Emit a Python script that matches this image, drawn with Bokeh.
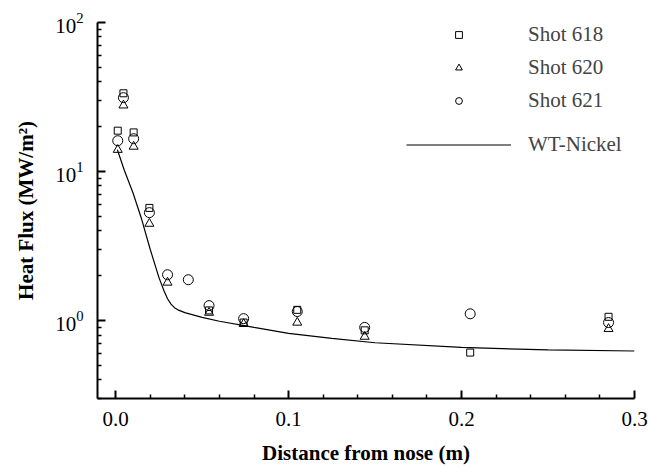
from bokeh.plotting import figure
from bokeh.models import (FixedTicker, NumeralTickFormatter, LogTickFormatter,
                          Legend, LegendItem, Range1d)
from bokeh.embed import file_html
from bokeh.resources import INLINE

# --- data ---
x_618 = [0.0012, 0.0045, 0.0104, 0.0195, 0.054, 0.074, 0.105, 0.144, 0.205, 0.285]
y_618 = [18.8, 33.5, 18.3, 5.7, 1.17, 0.97, 1.18, 0.86, 0.61, 1.06]

x_620 = [0.0012, 0.0045, 0.0104, 0.0195, 0.030, 0.054, 0.074, 0.105, 0.144, 0.285]
y_620 = [14.0, 27.8, 14.7, 4.47, 1.8, 1.13, 0.95, 0.97, 0.78, 0.88]

x_621 = [0.0012, 0.0045, 0.0104, 0.0195, 0.030, 0.042, 0.054, 0.074, 0.105, 0.144, 0.205, 0.285]
y_621 = [16.1, 31.3, 16.6, 5.3, 2.03, 1.88, 1.26, 1.03, 1.15, 0.90, 1.11, 0.97]

x_wt = [0.001, 0.005, 0.01, 0.015, 0.02, 0.025, 0.028, 0.030, 0.032, 0.034, 0.036,
        0.04, 0.05, 0.06, 0.08, 0.1, 0.125, 0.15, 0.2, 0.25, 0.3]
y_wt = [14.0, 10.2, 7.2, 4.8, 3.0, 1.95, 1.58, 1.4, 1.29, 1.22, 1.18,
        1.13, 1.05, 0.99, 0.9, 0.82, 0.76, 0.71, 0.66, 0.635, 0.625]

x_major = [0.0, 0.1, 0.2, 0.3]
x_minor = [0.02, 0.04, 0.06, 0.08, 0.12, 0.14, 0.16, 0.18, 0.22, 0.24, 0.26, 0.28]
y_major = [1, 10, 100]
y_minor = [0.3, 0.4, 0.5, 0.6, 0.7, 0.8, 0.9,
           2, 3, 4, 5, 6, 7, 8, 9,
           20, 30, 40, 50, 60, 70, 80, 90]

FONT = "Liberation Serif"

p = figure(frame_width=537, frame_height=376, y_axis_type="log",
           x_range=Range1d(-0.0105, 0.3), y_range=Range1d(0.3, 100),
           output_backend="svg", toolbar_location=None,
           min_border_left=97, min_border_right=14, min_border_top=22, min_border_bottom=69)
p.outline_line_color = None
p.grid.visible = False
p.background_fill_color = "white"
p.border_fill_color = "white"

line_r = p.line(x_wt, y_wt, line_color="black", line_width=1.2)
r618 = p.scatter(x_618, y_618, marker="square", size=7, fill_color=None, line_color="black", line_width=1)
r620 = p.scatter(x_620, y_620, marker="triangle", size=9, fill_color=None, line_color="black", line_width=1)
r621 = p.scatter(x_621, y_621, marker="circle", size=10, fill_color=None, line_color="black", line_width=1)

for ax in (p.xaxis[0], p.yaxis[0]):
    ax.axis_line_width = 2
    ax.axis_line_color = "black"
    ax.major_tick_line_width = 2
    ax.minor_tick_line_width = 1.5
    ax.major_tick_in = 8
    ax.major_tick_out = 0
    ax.minor_tick_in = 4
    ax.minor_tick_out = 0
    ax.major_label_text_font = FONT
    ax.major_label_text_font_size = "21px"
    ax.major_label_text_color = "black"
    ax.axis_label_text_font = FONT
    ax.axis_label_text_font_size = "21px"
    ax.axis_label_text_font_style = "bold"
    ax.axis_label_text_color = "black"

p.xaxis.ticker = FixedTicker(ticks=x_major, minor_ticks=x_minor)
p.xaxis.formatter = NumeralTickFormatter(format="0.0")
p.xaxis.major_label_standoff = 13
p.xaxis.axis_label = "Distance from nose (m)"
p.xaxis.axis_label_standoff = 12

p.yaxis.ticker = FixedTicker(ticks=y_major, minor_ticks=y_minor)
p.yaxis.formatter = LogTickFormatter()
p.yaxis.major_label_standoff = 14
p.yaxis.axis_label = "Heat Flux (MW/m²)"
p.yaxis.axis_label_standoff = 14

leg1 = Legend(items=[LegendItem(label="Shot 618", renderers=[r618]),
                     LegendItem(label="Shot 620", renderers=[r620]),
                     LegendItem(label="Shot 621", renderers=[r621])],
              location=(309, 285), glyph_width=105, glyph_height=17, label_height=22,
              spacing=8, label_standoff=17, padding=0, margin=0,
              border_line_color=None, background_fill_alpha=0,
              label_text_font=FONT, label_text_font_size="21px")
leg2 = Legend(items=[LegendItem(label="WT-Nickel", renderers=[line_r])],
              location=(309, 241), glyph_width=105, glyph_height=17, label_height=22,
              spacing=8, label_standoff=17, padding=0, margin=0,
              border_line_color=None, background_fill_alpha=0,
              label_text_font=FONT, label_text_font_size="21px")
p.add_layout(leg1, "center")
p.add_layout(leg2, "center")

open("out.html", "w").write(file_html(p, INLINE))
